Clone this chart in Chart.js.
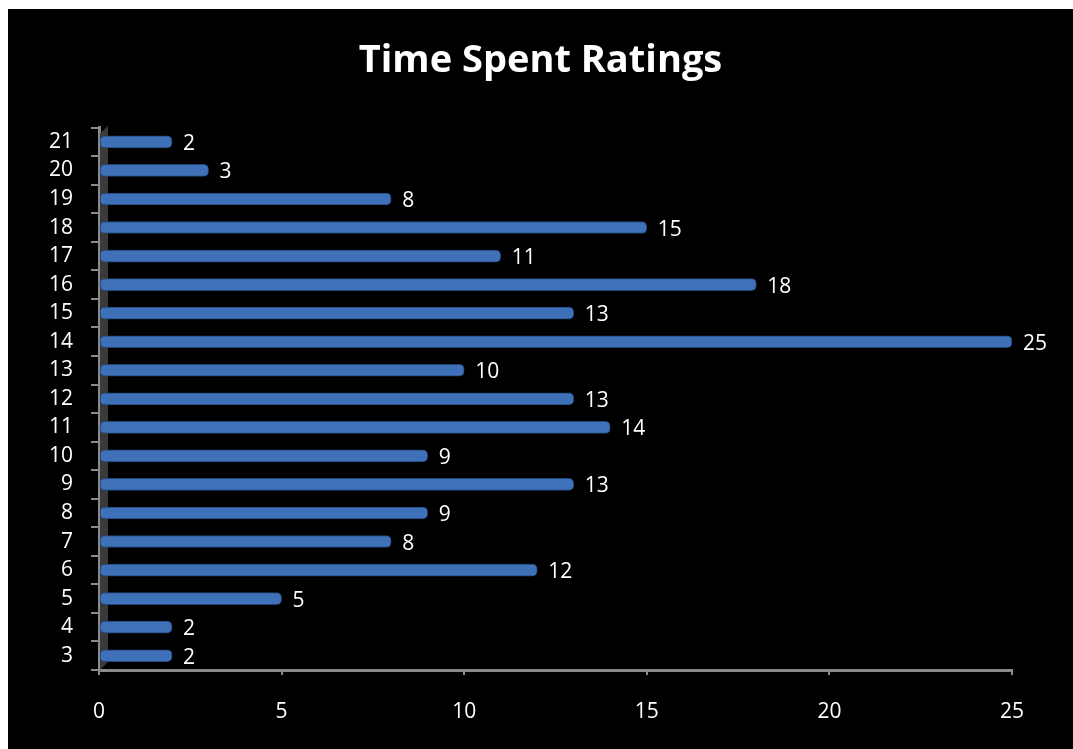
<!DOCTYPE html>
<html>
<head>
<meta charset="utf-8">
<title>Time Spent Ratings</title>
<script src="https://cdn.jsdelivr.net/npm/chart.js@4"></script>
<style>
    html, body { margin: 0; padding: 0; background: #ffffff; }
    #wrap { position: absolute; left: 8px; top: 9px; width: 1065px; height: 740px; background: #000000; }
</style>
</head>
<body>
<div id="wrap"><canvas id="ratingsChart" width="1065" height="740"></canvas></div>
<script>
// rating buckets (bottom to top) and how many answers fell in each
const ratings = ['3', '4', '5', '6', '7', '8', '9', '10', '11', '12', '13', '14', '15', '16', '17', '18', '19', '20', '21'];
const counts  = [2, 2, 5, 12, 8, 9, 13, 9, 14, 13, 10, 25, 13, 18, 11, 15, 8, 3, 2];
const xTicks  = [0, 5, 10, 15, 20, 25];

const FONT = '"Open Sans", "DejaVu Sans", sans-serif';
const AXIS_GRAY = '#8a8a8a';

// dark side wall next to the value axis
const wallPlugin = {
    id: 'wall',
    beforeDatasetsDraw(chart) {
        const { ctx, chartArea } = chart;
        ctx.save();
        ctx.fillStyle = '#3a3a3a';
        ctx.beginPath();
        ctx.moveTo(chartArea.left + 1, chartArea.top + 6);
        ctx.lineTo(chartArea.left + 9, chartArea.top - 2);
        ctx.lineTo(chartArea.left + 9, chartArea.bottom - 8);
        ctx.lineTo(chartArea.left + 1, chartArea.bottom);
        ctx.closePath();
        ctx.fill();
        ctx.restore();
    }
};

// value written just past the end of each bar
const valueLabels = {
    id: 'valueLabels',
    afterDatasetsDraw(chart) {
        const { ctx } = chart;
        const meta = chart.getDatasetMeta(0);
        ctx.save();
        ctx.fillStyle = '#ffffff';
        ctx.font = '21px ' + FONT;
        ctx.textAlign = 'left';
        ctx.textBaseline = 'middle';
        meta.data.forEach((bar, i) => {
            ctx.fillText(String(counts[i]), bar.x + 11, bar.y + 2);
        });
        ctx.restore();
    }
};

const ctx = document.getElementById('ratingsChart').getContext('2d');
new Chart(ctx, {
    type: 'bar',
    data: {
        labels: ratings,
        datasets: [{
            data: counts,
            backgroundColor: '#3f71b9',
            borderColor: '#22457a',
            borderWidth: 1,
            borderRadius: 5,
            borderSkipped: false,
            barThickness: 12
        }]
    },
    options: {
        indexAxis: 'y',
        responsive: false,
        animation: false,
        scales: {
            x: {
                min: 0,
                max: 25,
                afterBuildTicks: (scale) => { scale.ticks = xTicks.map(v => ({ value: v })); },
                // leave room on the right for the longest bar's value
                afterFit: (scale) => { scale.height = 79; scale.paddingRight = 61; },
                ticks: { color: '#ffffff', font: { family: FONT, size: 21 }, padding: 24 },
                grid: { drawOnChartArea: false, color: AXIS_GRAY, tickLength: 5, lineWidth: 2 },
                border: { color: AXIS_GRAY, width: 3 }
            },
            y: {
                reverse: true,
                afterFit: (scale) => { scale.width = 91; },
                ticks: { color: '#ffffff', font: { family: FONT, size: 21 }, padding: 18 },
                grid: { drawOnChartArea: false, color: AXIS_GRAY, tickLength: 8, lineWidth: 2 },
                border: { color: AXIS_GRAY, width: 3 }
            }
        },
        plugins: {
            legend: { display: false },
            tooltip: { enabled: false },
            title: {
                display: true,
                text: 'Time Spent Ratings',
                color: '#ffffff',
                font: { family: FONT, size: 38, weight: 'bold' },
                padding: { top: 29, bottom: 44 }
            }
        }
    },
    plugins: [wallPlugin, valueLabels]
});
</script>
</body>
</html>
